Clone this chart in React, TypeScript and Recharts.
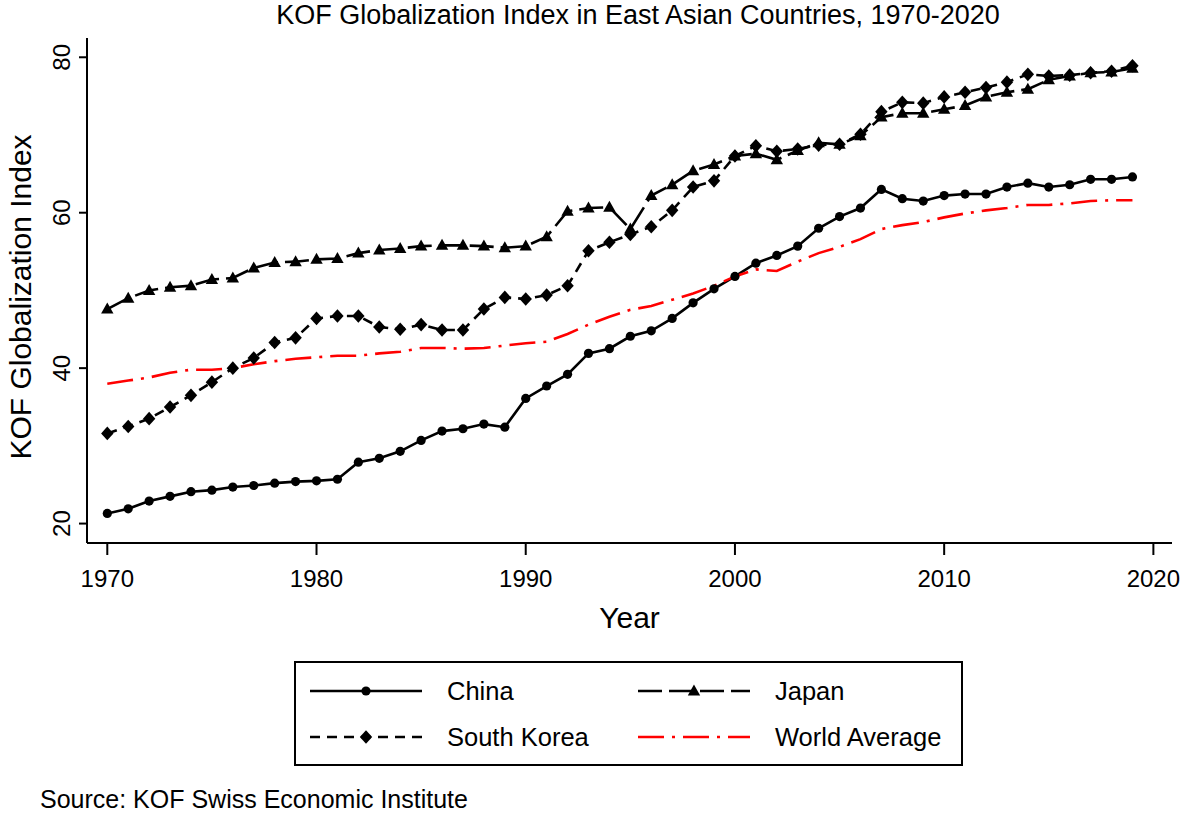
import React from "react";
import { LineChart, Line, XAxis, YAxis } from "recharts";

const FONT = "'Liberation Sans', Arial, Helvetica, sans-serif";

const years = [
  1970, 1971, 1972, 1973, 1974, 1975, 1976, 1977, 1978, 1979,
  1980, 1981, 1982, 1983, 1984, 1985, 1986, 1987, 1988, 1989,
  1990, 1991, 1992, 1993, 1994, 1995, 1996, 1997, 1998, 1999,
  2000, 2001, 2002, 2003, 2004, 2005, 2006, 2007, 2008, 2009,
  2010, 2011, 2012, 2013, 2014, 2015, 2016, 2017, 2018, 2019,
];

const china = [
  21.3, 21.9, 22.9, 23.5, 24.1, 24.3, 24.7, 24.9, 25.2, 25.4,
  25.5, 25.7, 27.9, 28.4, 29.3, 30.7, 31.9, 32.2, 32.8, 32.4,
  36.1, 37.7, 39.2, 41.9, 42.5, 44.1, 44.8, 46.4, 48.4, 50.2,
  51.8, 53.5, 54.5, 55.7, 58.0, 59.5, 60.6, 63.0, 61.8, 61.5,
  62.2, 62.4, 62.4, 63.3, 63.8, 63.3, 63.6, 64.3, 64.3, 64.6,
];

const japan = [
  47.6, 49.0, 50.0, 50.4, 50.6, 51.4, 51.6, 52.9, 53.6, 53.7,
  54.0, 54.1, 54.8, 55.2, 55.4, 55.7, 55.8, 55.8, 55.7, 55.5,
  55.7, 56.9, 60.2, 60.6, 60.7, 57.9, 62.2, 63.6, 65.4, 66.2,
  67.3, 67.6, 66.8, 68.0, 69.0, 68.8, 69.9, 72.3, 72.8, 72.8,
  73.3, 73.8, 74.9, 75.5, 75.9, 77.1, 77.6, 78.0, 78.1, 78.6,
];

const southKorea = [
  31.6, 32.5, 33.5, 35.0, 36.5, 38.2, 40.0, 41.3, 43.3, 43.9,
  46.4, 46.7, 46.7, 45.3, 45.0, 45.6, 44.9, 44.9, 47.6, 49.1,
  48.9, 49.4, 50.6, 55.1, 56.2, 57.2, 58.2, 60.3, 63.3, 64.1,
  67.3, 68.6, 67.9, 68.2, 68.7, 68.8, 70.1, 73.0, 74.2, 74.1,
  74.9, 75.5, 76.1, 76.8, 77.8, 77.6, 77.7, 78.0, 78.2, 78.9,
];

const worldAverage = [
  38.0, 38.4, 38.8, 39.4, 39.8, 39.8, 40.0, 40.5, 40.9, 41.2,
  41.4, 41.6, 41.6, 41.9, 42.1, 42.6, 42.6, 42.5, 42.6, 42.9,
  43.2, 43.4, 44.4, 45.6, 46.6, 47.5, 48.0, 48.8, 49.6, 50.6,
  51.8, 52.7, 52.5, 53.7, 54.8, 55.6, 56.6, 57.9, 58.4, 58.8,
  59.4, 59.9, 60.3, 60.6, 61.0, 61.0, 61.2, 61.5, 61.6, 61.6,
];

const xTicks = [1970, 1980, 1990, 2000, 2010, 2020];
const yTicks = [20, 40, 60, 80];

const data = years.map((year, i) => ({
  year,
  china: china[i],
  japan: japan[i],
  southKorea: southKorea[i],
  worldAverage: worldAverage[i],
}));

type Shape = "circle" | "triangle" | "diamond" | "none";

const series: { key: string; name: string; color: string; dash?: string; shape: Shape }[] = [
  { key: "china", name: "China", color: "#000", shape: "circle" },
  { key: "japan", name: "Japan", color: "#000", dash: "24 7", shape: "triangle" },
  { key: "southKorea", name: "South Korea", color: "#000", dash: "10 7", shape: "diamond" },
  { key: "worldAverage", name: "World Average", color: "#ff0000", dash: "26 8 3 8", shape: "none" },
];

function Marker({ shape, cx, cy, color }: { shape: Shape; cx: number; cy: number; color: string }) {
  if (shape === "circle") return <circle cx={cx} cy={cy} r={4.6} fill={color} />;
  if (shape === "triangle")
    return <path d={`M${cx},${cy - 6.5} L${cx + 6.2},${cy + 4.5} L${cx - 6.2},${cy + 4.5} Z`} fill={color} />;
  if (shape === "diamond")
    return <path d={`M${cx},${cy - 6.8} L${cx + 6.2},${cy} L${cx},${cy + 6.8} L${cx - 6.2},${cy} Z`} fill={color} />;
  return null;
}

const XTick = (props: any) => {
  const { x, y, payload } = props;
  return (
    <text x={x} y={y + 32} textAnchor="middle" fontSize={24} fontFamily={FONT} fill="#000">
      {payload.value}
    </text>
  );
};

const YTick = (props: any) => {
  const { x, y, payload } = props;
  const bx = x - 9;
  return (
    <text x={bx} y={y} transform={`rotate(-90 ${bx} ${y})`} textAnchor="middle" fontSize={24} fontFamily={FONT} fill="#000">
      {payload.value}
    </text>
  );
};

function LegendRow({ s, x, y }: { s: (typeof series)[number]; x: number; y: number }) {
  return (
    <g>
      <line x1={x} y1={y} x2={x + 112} y2={y} stroke={s.color} strokeWidth={2.6} strokeDasharray={s.dash} />
      <Marker shape={s.shape} cx={x + 56} cy={y} color={s.color} />
      <text x={x + 137} y={y + 9} fontSize={25.5} fontFamily={FONT} fill="#000">
        {s.name}
      </text>
    </g>
  );
}

export default function App() {
  const legendPos = [
    { x: 310, y: 691 },
    { x: 638, y: 691 },
    { x: 310, y: 737 },
    { x: 638, y: 737 },
  ];
  return (
    <div style={{ position: "absolute", left: 0, top: 0, width: 1180, height: 814, background: "#fff" }}>
      <LineChart width={1180} height={814} data={data} margin={{ top: 38, right: 8, left: 0, bottom: 211 }}>
        <XAxis
          dataKey="year"
          type="number"
          domain={[1969.03, 2020.89]}
          allowDataOverflow
          ticks={xTicks}
          height={60}
          tickSize={12}
          tickMargin={0}
          tick={<XTick />}
          axisLine={{ stroke: "#000", strokeWidth: 2 }}
          tickLine={{ stroke: "#000", strokeWidth: 2 }}
          label={{
            content: (p: any) => (
              <text
                x={p.viewBox.x + p.viewBox.width / 2}
                y={p.viewBox.y + 85}
                textAnchor="middle"
                fontSize={30}
                fontFamily={FONT}
                fill="#000"
              >
                Year
              </text>
            ),
          }}
        />
        <YAxis
          type="number"
          domain={[17.5, 82.48]}
          allowDataOverflow
          ticks={yTicks}
          width={87}
          tickSize={8}
          tickMargin={0}
          tick={<YTick />}
          axisLine={{ stroke: "#000", strokeWidth: 2 }}
          tickLine={{ stroke: "#000", strokeWidth: 2 }}
          label={{
            content: () => (
              <text x={31} y={297} transform="rotate(-90 31 297)" textAnchor="middle" fontSize={30} fontFamily={FONT} fill="#000">
                KOF Globalization Index
              </text>
            ),
          }}
        />
        {series.map((s) => (
          <Line
            key={s.key}
            dataKey={s.key}
            name={s.name}
            type="linear"
            stroke={s.color}
            strokeWidth={2.6}
            strokeDasharray={s.dash}
            isAnimationActive={false}
            activeDot={false}
            dot={(p: any) =>
              s.shape === "none" || p.cx == null ? (
                <g key={`${s.key}-${p.index}`} />
              ) : (
                <Marker key={`${s.key}-${p.index}`} shape={s.shape} cx={p.cx} cy={p.cy} color={s.color} />
              )
            }
          />
        ))}
      </LineChart>
      <svg width={1180} height={814} style={{ position: "absolute", left: 0, top: 0, pointerEvents: "none" }}>
        <text x={638} y={24} textAnchor="middle" fontSize={27} fontFamily={FONT} fill="#000">
          KOF Globalization Index in East Asian Countries, 1970-2020
        </text>
        <rect x={295} y={662} width={667} height={103} fill="none" stroke="#000" strokeWidth={2} />
        {series.map((s, i) => (
          <LegendRow key={s.key} s={s} x={legendPos[i].x} y={legendPos[i].y} />
        ))}
        <text x={40} y={808} fontSize={25} fontFamily={FONT} fill="#000">
          Source: KOF Swiss Economic Institute
        </text>
      </svg>
    </div>
  );
}
